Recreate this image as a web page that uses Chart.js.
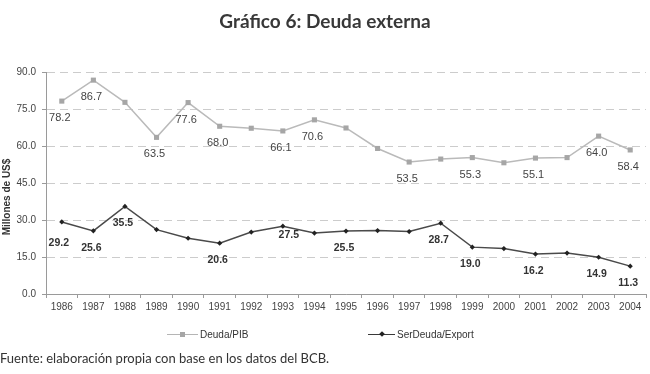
<!DOCTYPE html>
<html>
<head>
<meta charset="utf-8">
<script src="https://cdn.jsdelivr.net/npm/chart.js@4.4.1/dist/chart.umd.min.js"></script>
<style>
  html, body { margin: 0; padding: 0; background: #fff; }
  #wrap { position: relative; width: 650px; height: 374px; overflow: hidden; }
  #c { position: absolute; left: 0; top: 0; }
  #title { position: absolute; left: 0; width: 650px; top: 9px; text-align: center;
           font-family: "Lato", "DejaVu Sans", sans-serif; font-weight: bold; font-size: 19px; color: #383838; }
  #note { position: absolute; left: 0; top: 350px; font-family: "Lato", "DejaVu Sans", sans-serif;
          font-size: 13px; color: #333; white-space: nowrap; }
  .leg { position: absolute; top: 328px; height: 14px; font-family: "Liberation Sans", Arial, sans-serif;
         font-size: 10px; color: #333; white-space: nowrap; }
  .leg .ln { position: absolute; top: 6px; height: 0; border-top-style: solid; border-top-width: 1px; }
  .leg .mk { position: absolute; }
  .leg .tx { position: absolute; top: 0; line-height: 14px; }
</style>
</head>
<body>
<div id="wrap">
  <canvas id="c" width="650" height="374"></canvas>
  <div id="title">Gráfico 6: Deuda externa</div>
  <div class="leg" style="left:167px;">
    <div class="ln" style="left:0; width:31px; border-top-color:#b5b5b5;"></div>
    <div class="mk" style="left:13px; top:4px; width:5px; height:5px; background:#a6a6a6;"></div>
    <div class="tx" style="left:33px;">Deuda/PIB</div>
  </div>
  <div class="leg" style="left:368px;">
    <div class="ln" style="left:0; width:27px; border-top-color:#3a3a3a;"></div>
    <div class="mk" style="left:12px; top:4px; width:4px; height:4px; background:#222; transform:rotate(45deg);"></div>
    <div class="tx" style="left:29px;">SerDeuda/Export</div>
  </div>
  <div id="note">Fuente: elaboración propia con base en los datos del BCB.</div>
</div>
<script>
const years = ['1986','1987','1988','1989','1990','1991','1992','1993','1994','1995',
               '1996','1997','1998','1999','2000','2001','2002','2003','2004'];
const deudaPIB = [78.2, 86.7, 77.7, 63.5, 77.6, 68.0, 67.2, 66.1, 70.6, 67.3,
                  59.0, 53.5, 54.7, 55.3, 53.2, 55.1, 55.3, 64.0, 58.4];
const serDeudaExport = [29.2, 25.6, 35.5, 26.1, 22.6, 20.6, 25.1, 27.5, 24.7, 25.5,
                        25.7, 25.3, 28.7, 19.0, 18.4, 16.2, 16.6, 14.9, 11.3];
const pibLabeledYears = ['1986','1987','1989','1990','1991','1993','1994','1997','1999','2001','2003','2004'];
const serLabeledYears = ['1986','1987','1988','1991','1993','1995','1998','1999','2001','2003','2004'];
const yTicks = [0, 15, 30, 45, 60, 75, 90];

// label placement tweaks (pixels), keyed by dataset and year
const labelShift = {
  1: { '1986': [-3, 21], '1993': [6, 9] }
};

const labelPlugin = {
  id: 'valueLabels',
  afterDatasetsDraw(chart) {
    const ctx = chart.ctx;
    const specs = [
      { ds: 0, years: pibLabeledYears, font: '11px "Liberation Sans", Arial, sans-serif', color: '#444' },
      { ds: 1, years: serLabeledYears, font: 'bold 10.5px "Liberation Sans", Arial, sans-serif', color: '#333' }
    ];
    ctx.save();
    ctx.textAlign = 'center';
    ctx.textBaseline = 'middle';
    specs.forEach(s => {
      const meta = chart.getDatasetMeta(s.ds);
      const values = chart.data.datasets[s.ds].data;
      ctx.font = s.font;
      ctx.fillStyle = s.color;
      s.years.forEach(yr => {
        const i = years.indexOf(yr);
        const pt = meta.data[i];
        const sh = (labelShift[s.ds] && labelShift[s.ds][yr]) || [-2, 17];
        ctx.fillText(values[i].toFixed(1), pt.x + sh[0], pt.y + sh[1]);
      });
    });
    // y axis title
    ctx.font = 'bold 10px "Liberation Sans", Arial, sans-serif';
    ctx.fillStyle = '#333';
    ctx.translate(7, 197);
    ctx.rotate(-Math.PI / 2);
    ctx.fillText('Millones de US$', 0, 0);
    ctx.restore();
  }
};

new Chart(document.getElementById('c'), {
  type: 'line',
  data: {
    labels: years,
    datasets: [
      {
        label: 'Deuda/PIB',
        data: deudaPIB,
        borderColor: '#bababa',
        borderWidth: 1.5,
        pointStyle: 'rect',
        pointRadius: 3.6,
        pointBackgroundColor: '#a6a6a6',
        pointBorderColor: '#a6a6a6',
        pointBorderWidth: 0,
        tension: 0
      },
      {
        label: 'SerDeuda/Export',
        data: serDeudaExport,
        borderColor: '#4a4a4a',
        borderWidth: 1.5,
        pointStyle: 'rectRot',
        pointRadius: 2.6,
        pointBackgroundColor: '#222',
        pointBorderColor: '#222',
        pointBorderWidth: 0,
        tension: 0
      }
    ]
  },
  options: {
    responsive: false,
    animation: false,
    layout: { padding: { left: 0, right: 2, top: 72, bottom: 0 } },
    plugins: { legend: { display: false }, title: { display: false }, tooltip: { enabled: false } },
    scales: {
      x: {
        type: 'category',
        offset: true,
        afterFit: s => { s.height = 80; },
        border: { display: true, color: '#9a9a9a', width: 1 },
        grid: { offset: true, drawOnChartArea: false, drawTicks: true, tickLength: 4, color: '#9a9a9a' },
        ticks: { color: '#444', font: { family: '"Liberation Sans", Arial, sans-serif', size: 10 }, padding: 3, maxRotation: 0, autoSkip: false }
      },
      y: {
        min: 0,
        max: 90,
        afterFit: s => { s.width = 46; },
        afterBuildTicks: s => { s.ticks = yTicks.map(v => ({ value: v })); },
        border: { display: true, color: '#9a9a9a', width: 1, dash: [8, 5] },
        grid: { drawTicks: true, tickLength: 4, color: '#cccccc', tickColor: '#9a9a9a', tickBorderDash: [] },
        ticks: {
          color: '#444',
          font: { family: '"Liberation Sans", Arial, sans-serif', size: 10 },
          padding: 6,
          callback: v => Number(v).toFixed(1)
        }
      }
    }
  },
  plugins: [labelPlugin]
});
</script>
</body>
</html>
